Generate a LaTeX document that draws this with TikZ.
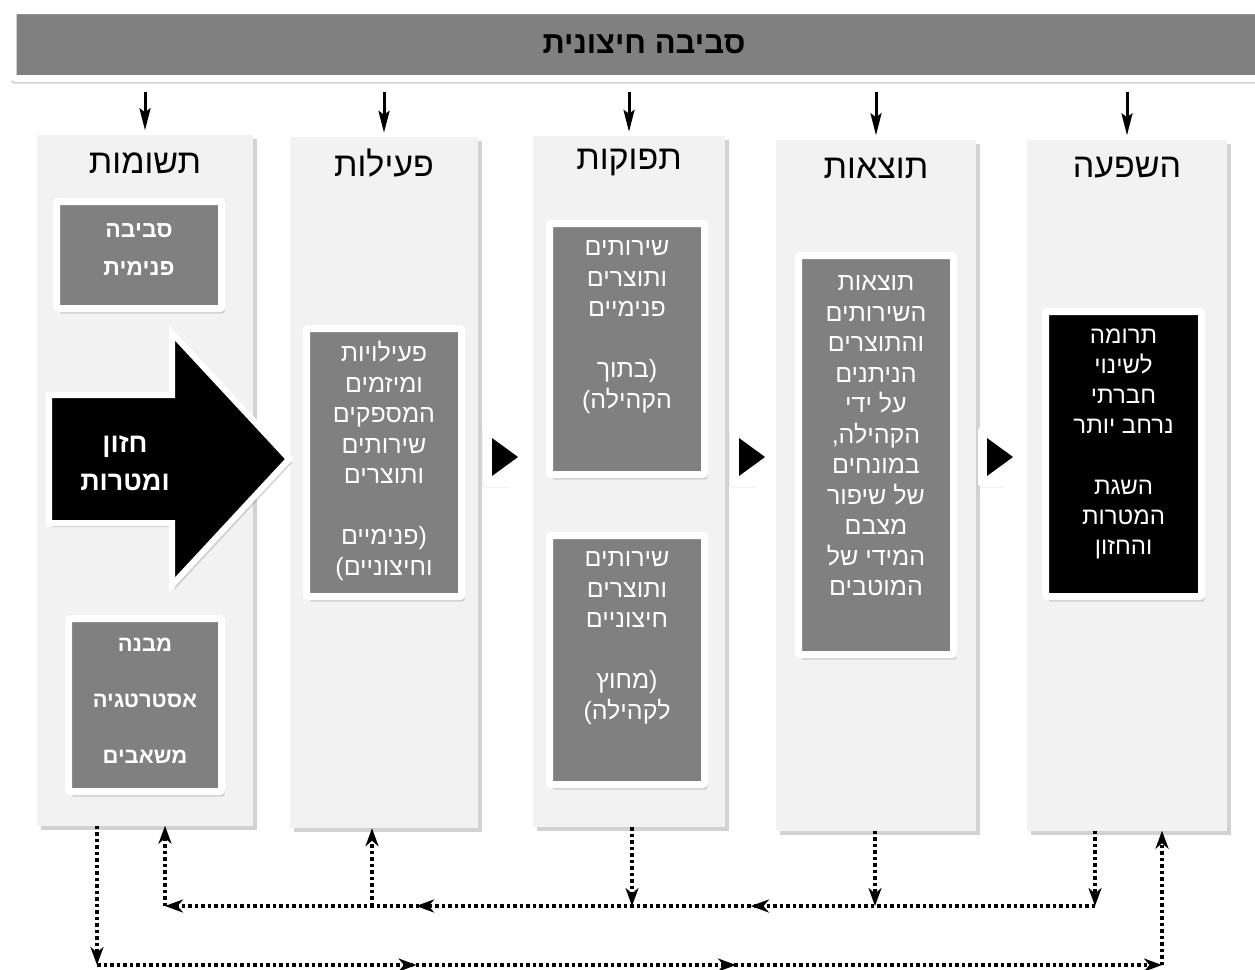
\documentclass[tikz,border=0pt]{standalone}
\usepackage{fontspec}
\newfontfamily\hebfont[Script=Hebrew]{Liberation Sans}
\TeXXeTstate=1
\usepackage{tikz}
\usetikzlibrary{calc}
\usetikzlibrary{arrows.meta}
\usetikzlibrary{shadows}
\usetikzlibrary{decorations.markings}
\usetikzlibrary{positioning}
\definecolor{colbg}{HTML}{F2F2F2}
\definecolor{boxgray}{HTML}{808080}
\newcommand{\rl}[1]{\beginR #1\endR}
\tikzset{dtip/.tip={Stealth[length=18pt,width=13pt,inset=5.5pt]}}
\tikzset{stage/.style={fill=colbg,inner sep=0pt,drop shadow={shadow xshift=4pt,shadow yshift=-4pt,opacity=.35}}}
\tikzset{box/.style={fill=boxgray,draw=white,line width=7pt,rounded corners=2pt,inner sep=0pt,drop shadow={shadow xshift=3pt,shadow yshift=-5pt,opacity=.3}}}
\tikzset{coltitle/.style={font=\hebfont\fontsize{34}{40}\selectfont}}
\tikzset{txt/.style={align=center,text=white,font=\hebfont\fontsize{25}{30.5}\selectfont}}
\tikzset{btxt/.style 2 args={align=center,text=white,font=\hebfont\bfseries\fontsize{#1}{#2}\selectfont}}
\tikzset{feed/.style={line width=3pt,-{Stealth[length=22pt,width=11pt,inset=4pt]},shorten <=10pt,shorten >=4pt}}
\tikzset{dotlink/.style={line width=3.5pt,dash pattern=on 3.5pt off 3pt,-{dtip}}}
\tikzset{midtip/.style={postaction={decorate,decoration={markings,mark=at position #1 with {\arrow{dtip}}}}}}

\begin{document}
\begin{tikzpicture}[x=1pt,y=-1pt]

\useasboundingbox (0,0) rectangle (1255,969);
\fill[white] (0,0) rectangle (1255,969);

\node[fill=boxgray,draw=white,line width=7pt,rounded corners=3pt,minimum width=1262pt,minimum height=68pt,
  drop shadow={shadow xshift=-2pt,shadow yshift=-5pt,opacity=.4},
  font=\hebfont\bfseries\fontsize{31}{36}\selectfont] (ext) at (644,44.5) {\rl{סביבה חיצונית}};

\foreach \i/\x/\y/\w/\ty/\ttl in {1/145/480/216/163/תשומות, 2/384/482.5/188/163/פעילות,
  3/629/481.5/192/163/תפוקות, 4/876/485/200/168/תוצאות, 5/1127/485/200/168/השפעה}
  {
 \node[stage,minimum width=\w pt,minimum height=691pt] (c\i) at (\x,\y) {};
 \node[coltitle] (t\i) at (\x,\ty) {\rl{\ttl}};
 \draw[feed] (ext.south -| c\i.north) -- (c\i.north);
 }

\node[box,minimum width=165pt,minimum height=107pt] (inner) at (139,255) {};
\node[btxt={23}{38}] (innert) at (139,250) {\rl{סביבה}\\\rl{פנימית}};

\node[box,minimum width=153pt,minimum height=173pt] (means) at (145,705) {};
\node[btxt={22}{56}] (meanst) at (145,701) {\rl{מבנה}\\\rl{אסטרטגיה}\\\rl{משאבים}};

\node[box,minimum width=155pt,minimum height=268pt] (act) at (384,462.5) {};
\node[txt] (actt) at (384,461) {\rl{פעילויות}\\\rl{ומיזמים}\\\rl{המספקים}\\\rl{שירותים}\\\rl{ותוצרים}\\[30.5pt]\rl{(פנימיים}\\\rl{וחיצוניים)}};

\node[box,minimum width=155pt,minimum height=251pt] (outin) at (627,349) {};
\node[txt] (outint) at (627,327) {\rl{שירותים}\\\rl{ותוצרים}\\\rl{פנימיים}\\[30.5pt]\rl{(בתוך}\\\rl{הקהילה)}};

\node[box,minimum width=155pt,minimum height=249pt] (outex) at (627,660) {};
\node[txt] (outext) at (627,638) {\rl{שירותים}\\\rl{ותוצרים}\\\rl{חיצוניים}\\[30.5pt]\rl{(מחוץ}\\\rl{לקהילה)}};

\node[box,minimum width=155pt,minimum height=399pt] (res) at (876,455) {};
\node[txt] (rest) at (876,436) {\rl{תוצאות}\\\rl{השירותים}\\\rl{והתוצרים}\\\rl{הניתנים}\\\rl{על ידי}\\\rl{הקהילה,}\\\rl{במונחים}\\\rl{של שיפור}\\\rl{מצבם}\\\rl{המידי של}\\\rl{המוטבים}};

\node[box,fill=black,minimum width=156pt,minimum height=285pt] (imp) at (1123.5,454) {};
\node[txt,font=\hebfont\fontsize{24}{30.2}\selectfont] (impt) at (1123.5,444) {\rl{תרומה}\\\rl{לשינוי}\\\rl{חברתי}\\\rl{נרחב יותר}\\[30.2pt]\rl{השגת}\\\rl{המטרות}\\\rl{והחזון}};

\filldraw[fill=black,draw=white,line width=6pt,drop shadow={shadow xshift=3pt,shadow yshift=-4pt,opacity=.3}]
  (49,395) -- (172,395) -- (172,333) -- (289,459) -- (172,585) -- (172,523) -- (49,523) -- cycle;
\node[btxt={27}{38}] (vision) at (125,463) {\rl{חזון}\\\rl{ומטרות}};

\foreach \x in {505,752,1000}
  {
 \filldraw[white,rounded corners=4pt,drop shadow={shadow xshift=-1pt,shadow yshift=-1pt,opacity=.12}]
   (\x-22,427) -- (\x+8,427) -- (\x+22,457) -- (\x+8,487) -- (\x-22,487) -- cycle;
 \fill[black] (\x-13,438) -- (\x+13,457) -- (\x-13,476) -- cycle;
 }

\coordinate (u1) at (165,906);
\coordinate (u2) at (372,906);
\coordinate (u3) at (632,906);
\coordinate (u4) at (875,906);
\coordinate (u5) at (1095,906);
\coordinate (l1) at (97,965);
\coordinate (l5) at (1162,965);

\draw[dotlink] (c5.south -| u5) -- (u5);
\draw[dotlink] (c4.south -| u4) -- (u4);
\draw[dotlink] (c3.south -| u3) -- (u3);
\draw[dotlink,midtip=0.37,midtip=0.73] (u5) -- (u1);
\draw[dotlink] (u1) -- (c1.south -| u1);
\draw[dotlink] (u2) -- (c2.south -| u2);

\draw[dotlink] (c1.south -| l1) -- (l1);
\draw[dotlink,midtip=0.3,midtip=0.6] (l1) -- (l5);
\draw[dotlink] (l5) -- (c5.south -| l5);

\end{tikzpicture}
\end{document}
